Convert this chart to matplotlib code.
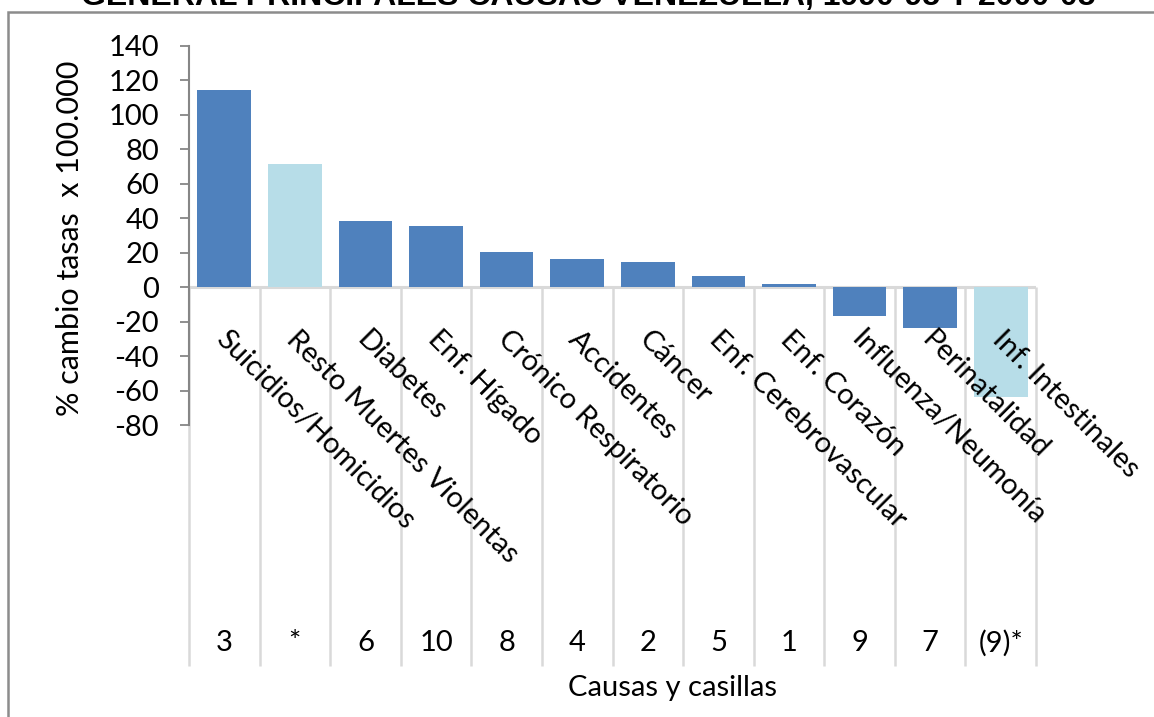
"""Cambio porcentual de tasas de mortalidad por causas, Venezuela"""
import matplotlib.pyplot as plt
import numpy as np
from matplotlib.patches import Rectangle

plt.rcParams["font.family"] = ["Lato", "DejaVu Sans"]
plt.rcParams["axes.unicode_minus"] = False

# data
causas = ["Suicidios/Homicidios", "Resto Muertes Violentas", "Diabetes", "Enf. Hígado",
          "Crónico Respiratorio", "Accidentes", "Cáncer", "Enf. Cerebrovascular",
          "Enf. Corazón", "Influenza/Neumonía", "Perinatalidad", "Inf. Intestinales"]
casillas = ["3", "*", "6", "10", "8", "4", "2", "5", "1", "9", "7", "(9)*"]
cambio = [114.5, 71.5, 38.5, 35.5, 20.5, 16.5, 14.8, 6.5, 1.6, -16.5, -23.5, -64]
resaltado = [False, True, False, False, False, False, False, False, False, False, False, True]

W, H = 1154, 717
fig = plt.figure(figsize=(W / 100, H / 100), dpi=100)
ax = fig.add_axes([189 / W, 1 - 425 / H, (1036 - 189) / W, (425 - 46) / H])

x = np.arange(len(causas))
colors = ["#B7DDE8" if r else "#4F81BD" for r in resaltado]
ax.bar(x, cambio, width=0.76, color=colors, zorder=2)

ax.set_xlim(-0.5, len(causas) - 0.5)
ax.set_ylim(-80, 140)
ax.set_yticks(np.arange(-80, 141, 20))
ax.tick_params(axis="y", length=6.5, width=1.3, color="#868686", labelsize=21, pad=15)
ax.set_xticks([])
for s in ["top", "right", "bottom"]:
    ax.spines[s].set_visible(False)
ax.spines["left"].set_color("#868686")
ax.spines["left"].set_linewidth(1.5)

# zero line and category separators
ax.axhline(0, color="#D9D9D9", lw=2.2, zorder=1)
px = 1.721  # pixels per unit on the value axis
y_bottom = (286.7 - 665) / px
ax.vlines(np.arange(len(causas) + 1) - 0.5, y_bottom, 0, color="#D9D9D9", lw=1.8,
          clip_on=False, zorder=1)

# rotated cause labels
for i, c in enumerate(causas):
    ax.text(i + 0.07, -22.5, c, rotation=-45, rotation_mode="anchor", ha="left", va="top",
            fontsize=21, clip_on=False, zorder=3)

# casillas row
y_num = (286.7 - 642) / px
for i, n in enumerate(casillas):
    ax.text(i, y_num, n, ha="center", va="center", fontsize=21, clip_on=False)

ax.set_ylabel("% cambio tasas  x 100.000", fontsize=22)
ax.yaxis.set_label_coords(-0.124, 0.493)
fig.text(672 / W, 1 - 688 / H, "Causas y casillas", ha="center", va="center", fontsize=21)

# chart frame and clipped title
fig.patches.append(Rectangle((8 / W, -0.1), 1.2, 1 - 12 / H + 0.1, transform=fig.transFigure,
                             fill=False, ec="#8C8C8C", lw=1.8))
fig.text(588 / W, 1 - 5.5 / H, "GENERAL PRINCIPALES CAUSAS VENEZUELA, 1990-95 Y 2000-05",
         ha="center", va="baseline", fontsize=23, fontweight="bold",
         family=["Liberation Sans", "DejaVu Sans"])

plt.savefig("out.png", dpi=100)
